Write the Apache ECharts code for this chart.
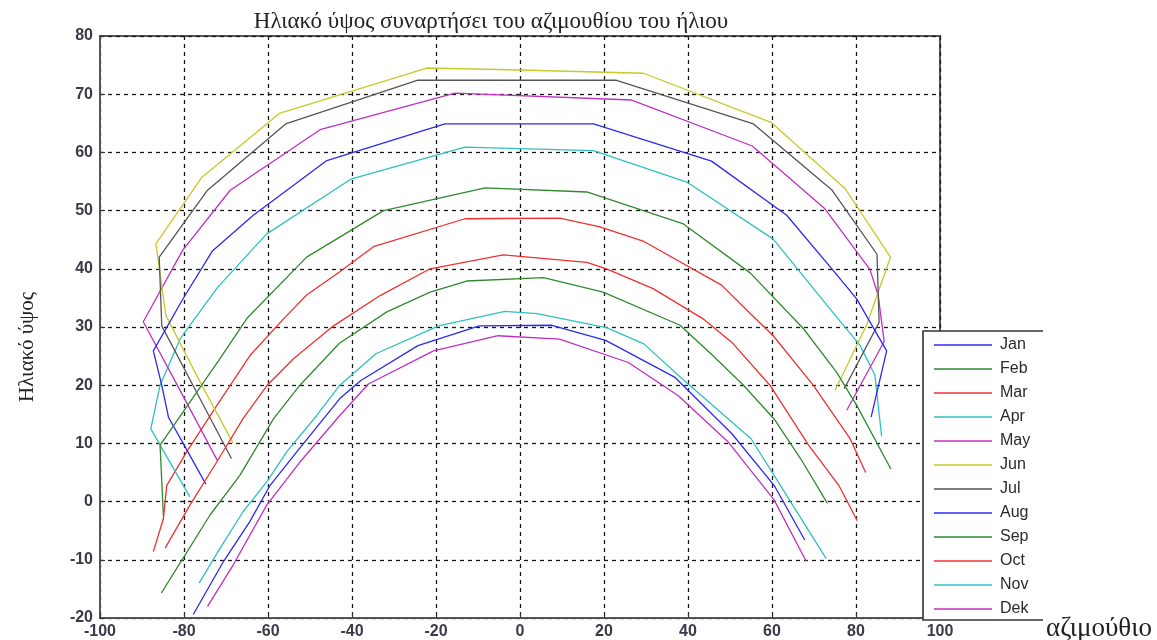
<!DOCTYPE html>
<html>
<head>
<meta charset="utf-8">
<script src="https://cdn.jsdelivr.net/npm/echarts@6/dist/echarts.min.js"></script>
<style>
  html, body { margin: 0; padding: 0; background: #ffffff; }
  #chart { width: 1157px; height: 640px; }
</style>
</head>
<body>
<div id="chart"></div>
<script>
// Solar altitude vs. azimuth, one path per month: [azimuth (deg), altitude (deg)]
const months = ['Jan', 'Feb', 'Mar', 'Apr', 'May', 'Jun', 'Jul', 'Aug', 'Sep', 'Oct', 'Nov', 'Dek'];

const jan = [[-77.8,-19.4],[-70.6,-10.3],[-64.3,-3.4],[-59.5,2.8],[-53.2,8.5],[-42.9,17.7],[-37.9,20.8],[-24.3,26.8],[-9.7,30.2],[7.6,30.3],[20.4,27.7],[36.8,21.4],[50.4,11.7],[60.5,2.8],[67.8,-6.6]];
const feb = [[-85.4,-15.7],[-80.2,-9.7],[-73.8,-2.3],[-66.7,4.5],[-58.7,14.2],[-52.4,20.0],[-43.0,27.2],[-31.7,32.6],[-21.4,36.0],[-12.7,37.9],[5.6,38.5],[19.8,36.0],[38.1,30.3],[45.9,25.1],[53.2,20.0],[60.5,14.2],[66.8,7.4],[73.2,-0.3]];
const mar = [[-87.3,-8.6],[-84.9,-2.9],[-84.1,2.8],[-79.4,8.5],[-72.2,16.5],[-64.3,25.1],[-56.3,31.4],[-50.8,35.5],[-42.9,39.5],[-34.9,43.8],[-13.1,48.6],[9.5,48.7],[19.0,47.2],[29.5,44.7],[48.0,37.2],[55.0,32.2],[60.3,28.5],[69.8,20.0],[78.6,10.8],[82.3,5.0]];
const apr = [[-78.6,0.8],[-87.9,12.5],[-85.7,20.0],[-80.9,28.0],[-72.0,36.8],[-60.3,46.0],[-40.3,55.4],[-13.1,60.9],[17.5,60.3],[39.7,54.9],[60.3,45.1],[73.8,33.1],[81.0,26.8],[84.5,21.7],[86.1,11.2]];
const may = [[-72.0,7.0],[-81.0,19.2],[-89.7,30.9],[-80.3,43.2],[-69.0,53.5],[-47.6,63.9],[-15.5,70.2],[26.6,69.0],[55.3,61.1],[72.6,50.3],[83.3,39.9],[85.3,35.4],[86.7,27.5],[77.8,15.7]];
const jun = [[-68.3,10.0],[-76.5,21.0],[-84.3,32.0],[-86.7,44.3],[-75.8,55.7],[-57.3,66.7],[-22.2,74.5],[-2.4,74.2],[29.4,73.6],[59.9,65.1],[77.5,53.7],[88.2,42.0],[82.5,30.3],[75.0,19.1]];
const jul = [[-68.7,7.4],[-77.0,18.8],[-85.3,30.2],[-85.9,42.0],[-74.4,53.5],[-55.8,64.9],[-24.3,72.4],[22.8,72.4],[55.6,64.9],[74.2,53.6],[85.0,42.5],[85.5,30.8],[77.2,19.4]];
const aug = [[-74.8,3.0],[-80.2,10.0],[-83.7,14.5],[-85.3,20.0],[-87.3,25.9],[-80.2,34.9],[-73.3,43.0],[-63.5,49.2],[-46.0,58.6],[-17.9,64.9],[17.5,64.9],[45.6,58.5],[63.5,49.2],[75.4,39.0],[80.2,34.8],[87.3,25.9],[83.6,14.5]];
const sep = [[-84.9,-2.6],[-85.7,9.7],[-80.2,15.4],[-71.4,24.6],[-65.0,31.5],[-50.8,42.0],[-32.5,50.0],[-8.3,53.9],[15.9,53.2],[38.9,47.7],[54.8,39.3],[67.5,29.7],[75.4,22.2],[80.2,16.5],[88.3,5.6]];
const oct = [[-84.5,-8.0],[-78.6,-0.6],[-72.2,6.8],[-65.9,14.3],[-60.3,19.9],[-54.0,24.5],[-44.4,30.2],[-33.3,35.4],[-21.4,40.0],[-4.0,42.4],[15.9,41.1],[20.6,40.0],[31.7,36.6],[43.6,31.4],[50.4,27.4],[59.5,20.0],[68.7,9.7],[75.9,2.8],[80.3,-3.3]];
const nov = [[-76.4,-14.0],[-71.4,-8.0],[-65.9,-1.7],[-60.3,3.4],[-55.6,8.5],[-48.4,14.8],[-42.9,20.0],[-34.3,25.4],[-19.4,30.2],[-3.6,32.7],[4.0,32.3],[20.6,29.9],[29.5,27.1],[38.6,21.1],[55.0,10.8],[60.5,4.5],[72.9,-9.8]];
const dek = [[-74.4,-18.0],[-68.3,-10.9],[-60.3,-0.6],[-52.4,6.8],[-42.9,14.8],[-36.1,20.2],[-20.6,25.9],[-5.2,28.5],[9.4,27.9],[25.8,23.9],[37.7,18.2],[49.5,10.3],[60.5,0.3],[68.1,-10.2]];

const monthPaths = [jan, feb, mar, apr, may, jun, jul, aug, sep, oct, nov, dek];

// classic plot colour cycle (blue, green, red, cyan, magenta, yellow, dark grey)
const lineColors = ['#2b2bf0', '#2f8a2f', '#f03030', '#2fc0c0', '#c030c0', '#c8c828', '#555555',
                    '#2b2bf0', '#2f8a2f', '#f03030', '#2fc0c0', '#c030c0'];

// axis ranges
const xRange = { min: -100, max: 100, step: 20 };
const yRange = { min: -20, max: 80, step: 10 };

const titleText = 'Ηλιακό ύψος συναρτήσει του αζιμουθίου του ήλιου';
const yName = 'Ηλιακό ύψος';
const xName = 'αζιμούθιο';

const serif = '"Liberation Serif", "DejaVu Serif", serif';
const sans = '"Liberation Sans", Arial, sans-serif';

const gridBox = { left: 100, top: 36, width: 840, height: 584 };

const chart = echarts.init(document.getElementById('chart'), null, { renderer: 'canvas' });

const gridLine = { show: true, lineStyle: { color: '#1a1a1a', width: 1.3, type: [4, 4] } };
const tickLabel = { fontFamily: sans, fontSize: 16, fontWeight: 'bold', color: '#3a3a48' };

chart.setOption({
  animation: false,
  backgroundColor: '#ffffff',
  title: {
    text: titleText,
    left: 486,
    top: 5,
    textAlign: 'center',
    textStyle: { fontFamily: serif, fontSize: 23, fontWeight: 'normal', color: '#222222' }
  },
  grid: Object.assign({ show: true, borderColor: '#555555', borderWidth: 2, containLabel: false }, gridBox),
  xAxis: {
    type: 'value',
    min: xRange.min, max: xRange.max, interval: xRange.step,
    axisLine: { show: true, onZero: false, lineStyle: { color: '#555555', width: 2 } },
    axisTick: { show: true, inside: true, length: 5, lineStyle: { color: '#333333' } },
    axisLabel: Object.assign({ margin: 6 }, tickLabel),
    splitLine: gridLine
  },
  yAxis: {
    type: 'value',
    min: yRange.min, max: yRange.max, interval: yRange.step,
    axisLine: { show: true, onZero: false, lineStyle: { color: '#555555', width: 2 } },
    axisTick: { show: true, inside: true, length: 5, lineStyle: { color: '#333333' } },
    axisLabel: Object.assign({ margin: 7 }, tickLabel),
    splitLine: gridLine
  },
  legend: {
    data: months,
    orient: 'vertical',
    left: 934,
    top: 333,
    padding: 0,
    itemGap: 0,
    itemWidth: 58,
    itemHeight: 1.6,
    icon: 'rect',
    selectedMode: false,
    z: 10,
    textStyle: { fontFamily: sans, fontSize: 16, color: '#2a2a2a', lineHeight: 24, padding: [0, 0, 0, 3] }
  },
  graphic: [
    // legend panel, drawn over the right edge of the plot frame
    { type: 'rect', z: 5, shape: { x: 923, y: 331, width: 134, height: 289 }, style: { fill: '#ffffff' } },
    { type: 'polyline', z: 6, shape: { points: [[1043, 331], [923, 331], [923, 620], [1043, 620]] },
      style: { stroke: '#333333', lineWidth: 1.6, fill: null } },
    { type: 'text', z: 6, x: 27, y: 347, rotation: Math.PI / 2,
      style: { text: yName, font: '21px ' + serif, fill: '#222222', textAlign: 'center', textVerticalAlign: 'middle' } },
    { type: 'text', z: 6, x: 1099, y: 629,
      style: { text: xName, font: '27px ' + serif, fill: '#222222', textAlign: 'center', textVerticalAlign: 'middle' } }
  ],
  series: months.map((m, i) => ({
    name: m,
    type: 'line',
    data: monthPaths[i],
    showSymbol: false,
    symbol: 'none',
    color: lineColors[i],
    lineStyle: { color: lineColors[i], width: 1.3 },
    itemStyle: { color: lineColors[i] },
    z: 3
  }))
});
</script>
</body>
</html>
